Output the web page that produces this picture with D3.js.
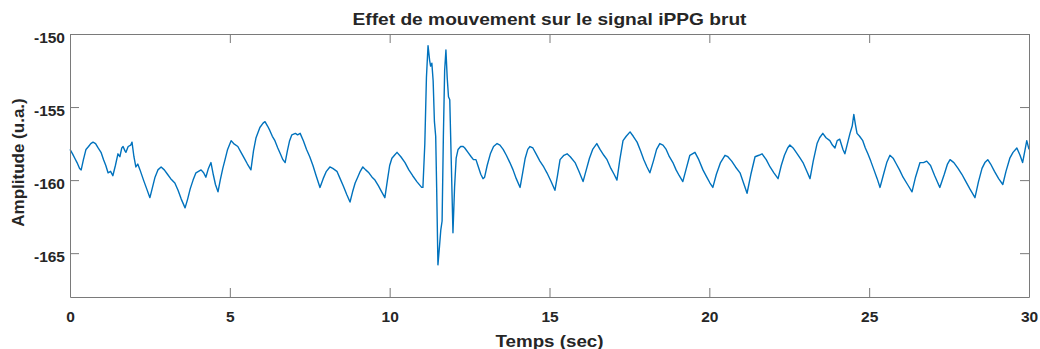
<!DOCTYPE html>
<html>
<head>
<meta charset="utf-8">
<script src="https://cdn.jsdelivr.net/npm/d3@7"></script>
<style>
  body { margin: 0; background: #fff; }
  svg text { font-family: "Liberation Sans", Arial, sans-serif; font-weight: bold; fill: #262626; }
</style>
</head>
<body>
<svg id="viz"></svg>
<script>
// Raw iPPG signal: time (s) and amplitude (u.a.)
const timeSec = [
  0.00, 0.08, 0.15, 0.22, 0.30, 0.35, 0.42, 0.50, 0.58, 0.65, 0.72, 0.80, 0.88, 0.97,
  1.05, 1.12, 1.19, 1.27, 1.34, 1.42, 1.50, 1.56, 1.62, 1.66, 1.72, 1.75, 1.82, 1.90, 1.94,
  2.00, 2.06, 2.12, 2.19, 2.30, 2.40, 2.50, 2.58, 2.66, 2.75, 2.85, 2.95,
  3.05, 3.15, 3.28, 3.38, 3.48, 3.60, 3.68, 3.76, 3.85, 3.94,
  4.02, 4.10, 4.18, 4.25, 4.33, 4.41, 4.48, 4.55, 4.63, 4.70, 4.78, 4.85, 4.93,
  5.04, 5.12, 5.25, 5.35, 5.45, 5.55, 5.66, 5.74, 5.82, 5.94,
  6.04, 6.10, 6.18, 6.25, 6.33, 6.41, 6.50, 6.58, 6.66, 6.73, 6.80, 6.87, 6.94,
  7.05, 7.12, 7.20, 7.30, 7.40, 7.50, 7.60, 7.70, 7.82, 7.92,
  8.02, 8.13, 8.22, 8.35, 8.45, 8.55, 8.66, 8.76, 8.84, 8.92,
  9.00, 9.08, 9.16, 9.25, 9.35, 9.45, 9.54, 9.65, 9.75, 9.85, 9.93,
  10.00, 10.07, 10.15, 10.23, 10.35, 10.48, 10.60, 10.72, 10.85,
  11.00, 11.04, 11.10, 11.15, 11.20, 11.25, 11.28, 11.32, 11.36, 11.40, 11.44, 11.47,
  11.51, 11.56, 11.60, 11.64, 11.68, 11.72, 11.76, 11.80, 11.84, 11.88, 11.93, 11.98,
  12.03, 12.08, 12.14, 12.22, 12.30, 12.35, 12.45, 12.55, 12.62, 12.70, 12.76, 12.85, 12.92, 12.97,
  13.05, 13.15, 13.25, 13.36, 13.45, 13.55, 13.65, 13.76, 13.86, 13.96,
  14.08, 14.16, 14.24, 14.32, 14.39, 14.48, 14.58, 14.70, 14.82, 14.92,
  15.05, 15.17, 15.25, 15.33, 15.45, 15.55, 15.65, 15.80, 15.92,
  16.05, 16.15, 16.25, 16.35, 16.48, 16.58, 16.70, 16.80, 16.92,
  17.02, 17.11, 17.20, 17.30, 17.40, 17.52, 17.62, 17.74, 17.85, 17.95,
  18.05, 18.14, 18.25, 18.35, 18.45, 18.55, 18.65, 18.75, 18.86, 18.96,
  19.06, 19.17, 19.28, 19.39, 19.47, 19.55, 19.67, 19.80, 19.92,
  20.02, 20.11, 20.22, 20.35, 20.49, 20.58, 20.70, 20.82, 20.96,
  21.07, 21.18, 21.30, 21.43, 21.55, 21.65, 21.78, 21.90,
  22.02, 22.15, 22.25, 22.35, 22.45, 22.52, 22.62, 22.75, 22.84, 22.93,
  23.05, 23.15, 23.25, 23.37, 23.45, 23.55, 23.65, 23.77, 23.85, 23.93,
  24.00, 24.08, 24.18, 24.24, 24.32, 24.40, 24.47, 24.52, 24.57, 24.62, 24.70, 24.80, 24.88, 24.96,
  25.05, 25.15, 25.25, 25.34, 25.45, 25.55, 25.65, 25.75, 25.85, 25.95,
  26.06, 26.20, 26.34, 26.45, 26.59, 26.70, 26.80, 26.92,
  27.05, 27.21, 27.35, 27.45, 27.53, 27.65, 27.78, 27.90,
  28.00, 28.15, 28.31, 28.42, 28.53, 28.62, 28.71, 28.80, 28.92,
  29.05, 29.18, 29.28, 29.40, 29.50, 29.62, 29.72, 29.80, 29.87, 29.93, 30.00
];

const amplitude = [
  -157.9, -158.2, -158.5, -158.8, -159.2, -159.3, -158.6, -157.9, -157.7, -157.5, -157.4, -157.5, -157.8, -158.1,
  -158.6, -159.0, -159.5, -159.4, -159.7, -159.0, -158.2, -158.4, -157.8, -157.7, -158.0, -158.1, -157.7, -157.6, -157.4,
  -158.4, -159.1, -158.9, -159.3, -160.0, -160.6, -161.2, -160.5, -159.8, -159.3, -159.1, -159.3,
  -159.6, -159.9, -160.2, -160.7, -161.3, -161.9, -161.3, -160.6, -160.0, -159.5,
  -159.4, -159.3, -159.5, -159.8, -159.2, -158.8, -159.6, -160.3, -160.8, -160.0, -159.2, -158.6, -157.9,
  -157.3, -157.5, -157.7, -158.1, -158.5, -158.9, -159.3, -158.0, -157.1, -156.4,
  -156.1, -156.0, -156.3, -156.6, -157.0, -157.3, -157.8, -158.2, -158.6, -158.8, -158.0, -157.3, -156.9,
  -156.8, -156.9, -156.8, -157.3, -157.9, -158.4, -159.0, -159.7, -160.5, -159.9,
  -159.4, -159.1, -159.2, -159.4, -159.9, -160.4, -161.0, -161.5, -160.8, -160.2,
  -159.8, -159.4, -159.1, -159.3, -159.5, -159.8, -160.0, -160.4, -160.8, -161.2, -160.0,
  -159.0, -158.5, -158.3, -158.1, -158.4, -158.8, -159.3, -159.7, -160.1,
  -160.5, -160.5, -157.5, -153.0, -150.8, -151.8, -152.2, -152.0, -153.2, -156.0, -157.0, -160.5,
  -165.8, -164.5, -163.4, -162.8, -157.0, -152.5, -151.1, -153.0, -154.3, -154.5, -159.0, -163.6,
  -160.5, -158.5, -157.9, -157.7, -157.7, -157.8, -158.1, -158.4, -158.6, -158.6, -159.0, -159.6, -159.9, -159.8,
  -159.0, -158.2, -157.7, -157.5, -157.6, -157.9, -158.3, -158.8, -159.3, -159.9,
  -160.5, -159.5, -158.5, -157.9, -157.7, -157.8, -158.2, -158.7, -159.1, -159.5,
  -160.1, -160.7, -159.7, -158.6, -158.3, -158.2, -158.4, -158.8, -159.4,
  -160.1, -159.3, -158.5, -157.9, -157.5, -157.9, -158.3, -158.6, -159.2,
  -159.6, -160.0, -158.6, -157.3, -157.0, -156.7, -157.0, -157.4, -158.0, -158.6,
  -159.1, -159.5, -158.7, -157.9, -157.5, -157.6, -157.9, -158.4, -158.8, -159.3,
  -159.7, -160.1, -159.2, -158.3, -158.2, -158.1, -158.6, -159.3, -159.8,
  -160.2, -160.5, -159.6, -158.8, -158.3, -158.4, -158.7, -159.1, -159.5,
  -160.2, -160.9, -159.6, -158.4, -158.3, -158.2, -158.6, -159.1,
  -159.5, -159.9, -159.0, -158.3, -157.8, -157.6, -157.8, -158.2, -158.5, -158.8,
  -159.4, -159.9, -158.7, -157.5, -157.1, -156.8, -157.1, -157.3, -157.6, -157.8,
  -157.3, -157.2, -157.9, -158.2, -157.5, -156.8, -156.3, -155.5, -156.2, -156.8, -157.0, -157.3, -157.8, -158.2,
  -158.7, -159.3, -159.9, -160.5, -159.6, -158.8, -158.3, -158.5, -158.9, -159.3,
  -159.8, -160.3, -160.8, -159.8, -158.8, -158.8, -158.7, -159.0,
  -159.7, -160.5, -159.6, -158.9, -158.6, -158.8, -159.2, -159.6,
  -160.0, -160.6, -161.2, -160.1, -159.2, -158.8, -158.6, -158.9, -159.4,
  -159.9, -160.3, -159.4, -158.5, -158.1, -157.8, -158.3, -158.8, -158.0, -157.3, -157.9
];

const xTicks = [0, 5, 10, 15, 20, 25, 30];
const yTicks = [-165, -160, -155, -150];

const width = 1040, height = 349;
const margin = {top: 34, right: 11, bottom: 52, left: 70};
const innerW = width - margin.left - margin.right;
const innerH = height - margin.top - margin.bottom;

const svg = d3.select("#viz").attr("width", width).attr("height", height);

const x = d3.scaleLinear().domain([0, 30]).range([0, innerW]);
const y = d3.scaleLinear().domain([-168, -150]).range([innerH, 0]);

const g = svg.append("g").attr("transform", `translate(${margin.left},${margin.top})`);

const points = timeSec.map((t, i) => [t, amplitude[i]]);

g.append("path")
  .datum(points)
  .attr("fill", "none")
  .attr("stroke", "#0072BD")
  .attr("stroke-width", 1.4)
  .attr("stroke-linejoin", "round")
  .attr("d", d3.line().x(d => x(d[0])).y(d => y(d[1])));

// MATLAB-like box with inward ticks on all four sides
const tickLen = 9;
const fmt = d => String(d);

const styleAxis = sel => {
  sel.selectAll("path.domain").attr("stroke", "#7a7a7a");
  sel.selectAll(".tick line").attr("stroke", "#7a7a7a");
  sel.selectAll(".tick text")
    .attr("font-size", 15.5)
    .attr("font-family", "Liberation Sans, Arial, sans-serif")
    .attr("font-weight", "bold")
    .attr("fill", "#262626");
};

g.append("g").attr("transform", `translate(0,${innerH})`)
  .call(d3.axisBottom(x).tickValues(xTicks).tickFormat(fmt).tickSize(-tickLen).tickSizeOuter(0).tickPadding(14))
  .call(styleAxis);

g.append("g")
  .call(d3.axisTop(x).tickValues(xTicks).tickFormat("").tickSize(-tickLen).tickSizeOuter(0))
  .call(styleAxis);

g.append("g")
  .call(d3.axisLeft(y).tickValues(yTicks).tickFormat(fmt).tickSize(-tickLen).tickSizeOuter(0).tickPadding(5))
  .call(styleAxis)
  .selectAll(".tick text").attr("dy", "0.55em");

g.append("g").attr("transform", `translate(${innerW},0)`)
  .call(d3.axisRight(y).tickValues(yTicks).tickFormat("").tickSize(-tickLen).tickSizeOuter(0))
  .call(styleAxis);

// Title and axis labels
svg.append("text")
  .attr("x", margin.left + innerW / 2)
  .attr("y", 25)
  .attr("text-anchor", "middle")
  .attr("font-size", 17)
  .attr("textLength", 394)
  .attr("lengthAdjust", "spacingAndGlyphs")
  .text("Effet de mouvement sur le signal iPPG brut");

svg.append("text")
  .attr("x", margin.left + innerW / 2)
  .attr("y", 347)
  .attr("text-anchor", "middle")
  .attr("font-size", 16)
  .attr("textLength", 108)
  .attr("lengthAdjust", "spacingAndGlyphs")
  .text("Temps (sec)");

svg.append("text")
  .attr("transform", `translate(24,${margin.top + innerH / 2 - 3}) rotate(-90)`)
  .attr("text-anchor", "middle")
  .attr("font-size", 17)
  .text("Amplitude (u.a.)");
</script>
</body>
</html>
